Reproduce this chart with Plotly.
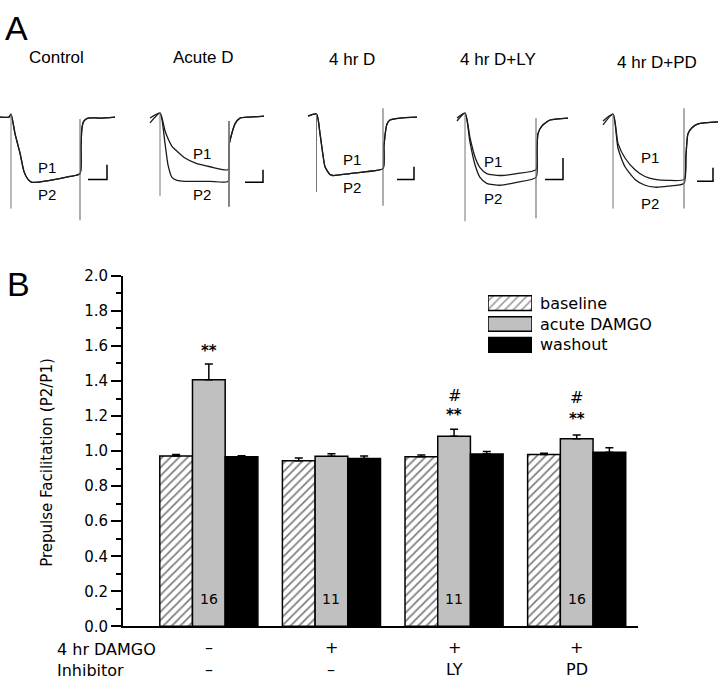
import plotly.graph_objects as go

# ---------------- panel B data ----------------
groups = [0, 1, 2, 3]
baseline = [0.972, 0.945, 0.967, 0.980]
baseline_err = [0.008, 0.015, 0.010, 0.008]
acute = [1.407, 0.970, 1.085, 1.070]
acute_err = [0.090, 0.015, 0.040, 0.022]
washout = [0.968, 0.957, 0.983, 0.994]
washout_err = [0.006, 0.015, 0.015, 0.025]
n_cells = ["16", "11", "11", "16"]
stars = ["**", "", "**", "**"]
star_y = [1.57, None, 1.207, 1.185]
hashes = ["", "", "#", "#"]
hash_y = [None, None, 1.318, 1.305]
damgo_row = ["\u2013", "+", "+", "+"]
inhib_row = ["\u2013", "\u2013", "LY", "PD"]
legend_names = ["baseline", "acute DAMGO", "washout"]

# ---------------- panel A data (sweep time, current) ----------------
titles = ["Control", "Acute D", "4 hr D", "4 hr D+LY", "4 hr D+PD"]

ctrl_t = [0, 9, 11, 15, 20, 24, 28, 32, 50, 70, 80, 81, 82, 84, 88, 100, 115]
ctrl_p1 = [-1, -1, 2, -18, -38, -57, -65, -68, -66, -62, -59, -30, -12, -5, -2, -2, -1]
ctrl_p2 = [-1, -1, 2, -18, -38, -57, -65, -68, -66, -62, -59, -30, -12, -5, -2, -2, -1]

acute_t = [10, 20, 25, 28, 32, 37, 45, 55, 70, 88, 89, 95, 100, 110, 124]
acute_p1 = [-2, 3, -15, -23, -31, -36, -43, -48, -52, -55, -30, -8, -2, -1, 0]
acute_p2 = [-7, 3, -28, -50, -63, -66, -67, -67, -67, -67, -30, -8, -2, -1, 0]

hr4_t = [8, 16.5, 20, 22.7, 25, 30, 33, 50, 66.7, 83, 84, 87, 90, 100, 117]
hr4_p1 = [0, 2, -18, -38, -52, -60, -61, -59, -57, -54, -30, -8, -4, -2, -1]
hr4_p2 = [0, 2, -18, -38, -52, -60, -61, -59, -57, -54, -30, -8, -4, -2, -1]

ly_t = [7, 15, 20, 25, 30, 36.7, 50, 66.7, 86, 87, 88, 92, 100, 118]
ly_p1 = [-2, 3, -22, -42, -53, -59, -61, -59, -55, -35, -18, -10, -4, -2]
ly_p2 = [-5, 3, -27, -50, -63, -69, -71, -68, -63, -35, -18, -10, -4, -2]

pd_t = [8, 18, 23, 30, 40, 50, 60, 73, 89, 91, 93, 97, 103, 123]
pd_p1 = [-5, 2, -28, -43, -55, -62, -65, -66, -65, -40, -18, -12, -8, -6]
pd_p2 = [-9, 2, -33, -52, -65, -71, -73, -72, -69, -40, -18, -12, -8, -6]

# stimulus artifacts: (time, top, bottom)
art_on = [(11, 2, -95), (20, 3, -82), (16.5, 2, -78), (15, 3, -108), (18, 2, -95)]
art_off = [(80, -3, -107), (89, -5, -93), (83, 8, -92), (86, -2, -105), (89, 8, -95)]
# scale bars: (x start, x end, bottom, top)
scalebars = [(88, 107, -65, -50), (105, 123, -68, -55), (97, 114, -65, -52),
             (95, 113, -65, -43), (102, 118, -67, -53)]
# label positions: (time, P1 level, P2 level)
p_labels = [(47, -53, -80), (62, -38, -80), (52, -45, -73), (43, -47, -85), (55, -43, -90)]

sweeps = [(ctrl_t, ctrl_p1, ctrl_p2), (acute_t, acute_p1, acute_p2), (hr4_t, hr4_p1, hr4_p2),
          (ly_t, ly_p1, ly_p2), (pd_t, pd_p1, pd_p2)]

W, H = 720, 686
panel_left = [0, 140, 300, 450, 595]
title_x = [56, 203, 352, 498, 657]
title_y = [50, 50, 52, 52, 55]


def txt(text, x, y, xref="paper", yref="paper", size=14, family="DejaVu Sans", **kw):
    d = dict(x=x, y=y, xref=xref, yref=yref, text=text, showarrow=False,
             xanchor="center", yanchor="middle", font=dict(family=family, size=size, color="black"))
    d.update(kw)
    return d


fig = go.Figure()

# ---- panel B bars ----
hatch = dict(shape="/", size=6, solidity=0.3, fgcolor="black", bgcolor="white")
fig.add_trace(go.Bar(x=groups, y=baseline, name=legend_names[0],
                     marker=dict(color="white", line=dict(color="black", width=1.5), pattern=hatch),
                     error_y=dict(type="data", symmetric=False, array=baseline_err, arrayminus=[0]*4,
                                  color="black", thickness=1.5, width=4)))
fig.add_trace(go.Bar(x=groups, y=acute, name=legend_names[1],
                     marker=dict(color="#c0c0c0", line=dict(color="black", width=1.5)),
                     error_y=dict(type="data", symmetric=False, array=acute_err, arrayminus=[0]*4,
                                  color="black", thickness=1.5, width=4)))
fig.add_trace(go.Bar(x=groups, y=washout, name=legend_names[2],
                     marker=dict(color="black", line=dict(color="black", width=1.5)),
                     error_y=dict(type="data", symmetric=False, array=washout_err, arrayminus=[0]*4,
                                  color="black", thickness=1.5, width=4)))

# ---- legend swatches on a small hidden axis ----
fig.add_trace(go.Bar(x=[1, 1, 1], y=[0, 1, 2], orientation="h", width=0.7, xaxis="x2", yaxis="y2",
                     cliponaxis=False, hoverinfo="skip",
                     marker=dict(color=["white", "#c0c0c0", "black"], line=dict(color="black", width=1.5),
                                 pattern=dict(shape=["/", "", ""], size=6, solidity=0.3,
                                              fgcolor="black", bgcolor="white"))))

ann = []
for i, name in enumerate(legend_names):
    ann.append(txt(name, 1, i, "x2", "y2", size=16, xanchor="left", xshift=6))

# ---- panel A traces ----
for k, (t, p1, p2) in enumerate(sweeps):
    xa, ya = "x%d" % (k + 3), "y%d" % (k + 3)
    for sw in (p1, p2):
        fig.add_trace(go.Scatter(x=t, y=sw, mode="lines", xaxis=xa, yaxis=ya,
                                 line=dict(color="#1a1a1a", width=1.3, shape="spline", smoothing=0.6),
                                 hoverinfo="skip"))
    for art, wd in ((art_on[k], 1.0), (art_off[k], 1.8 if k == 1 else 1.2)):
        fig.add_trace(go.Scatter(x=[art[0], art[0]], y=[art[1], art[2]], mode="lines", xaxis=xa, yaxis=ya,
                                 line=dict(color="#777777", width=wd), hoverinfo="skip"))
    sb = scalebars[k]
    fig.add_trace(go.Scatter(x=[sb[0], sb[1], sb[1]], y=[sb[2], sb[2], sb[3]], mode="lines",
                             xaxis=xa, yaxis=ya, line=dict(color="black", width=1.5), hoverinfo="skip"))
    lab = p_labels[k]
    ann.append(txt("P1", lab[0], lab[1], xa, ya, size=15, family="Liberation Sans"))
    ann.append(txt("P2", lab[0], lab[2], xa, ya, size=15, family="Liberation Sans"))
    ann.append(txt(titles[k], title_x[k] / W, 1 - title_y[k] / H, size=17, family="Liberation Sans"))

# ---- panel B annotations ----
for g in groups:
    ann.append(txt(n_cells[g], g, 0.155, "x", "y", size=14))
    if stars[g]:
        ann.append(txt("<b>%s</b>" % stars[g], g, star_y[g], "x", "y", size=15))
    if hashes[g]:
        ann.append(txt(hashes[g], g, hash_y[g], "x", "y", size=16))
    ann.append(txt(damgo_row[g], g, 1 - 656 / H, "x", "paper", size=16))
    ann.append(txt(inhib_row[g], g, 1 - 678 / H, "x", "paper", size=16))

ann.append(txt("4 hr DAMGO", 55 / W, 1 - 658 / H, size=16, xanchor="left"))
ann.append(txt("Inhibitor", 55 / W, 1 - 679 / H, size=16, xanchor="left"))
ann.append(txt("Prepulse Facilitation (P2/P1)", 47 / W, 1 - 466 / H, size=15, textangle=-90))
ann.append(txt("A", 16 / W, 1 - 19 / H, size=34, family="Liberation Sans"))
ann.append(txt("B", 18 / W, 1 - 282 / H, size=34, family="Liberation Sans"))

layout = dict(
    width=W, height=H, margin=dict(l=0, r=0, t=0, b=0),
    paper_bgcolor="white", plot_bgcolor="white", showlegend=False,
    barmode="group", bargap=0.2, bargroupgap=0,
    xaxis=dict(domain=[123 / W, 638 / W], range=[-0.70, 3.5], showline=True, linecolor="black",
               linewidth=2, showticklabels=False, ticks="", showgrid=False, zeroline=False),
    yaxis=dict(domain=[1 - 634 / H, 1 - 274 / H], range=[0, 2.0], showline=True, linecolor="black",
               linewidth=2, ticks="outside", ticklen=10, tickwidth=1.5, tickcolor="black",
               dtick=0.2, tickformat=".1f", showgrid=False, zeroline=False,
               tickfont=dict(family="DejaVu Sans", size=15, color="black"),
               minor=dict(dtick=0.1, ticks="outside", ticklen=5, tickwidth=1.5, tickcolor="black",
                          showgrid=False)),
    xaxis2=dict(domain=[488 / W, 532 / W], range=[0, 1], visible=False, anchor="y2"),
    yaxis2=dict(domain=[1 - 355.75 / H, 1 - 291.25 / H], range=[2.5, -0.5], visible=False, anchor="x2"),
    annotations=ann,
)
for k in range(5):
    xl = panel_left[k]
    layout["xaxis%d" % (k + 3)] = dict(domain=[xl / W, min(xl + 125, W) / W], range=[0, 125],
                                       visible=False, anchor="y%d" % (k + 3))
    layout["yaxis%d" % (k + 3)] = dict(domain=[1 - 222 / H, 1 - 100 / H], range=[-112, 10],
                                       visible=False, anchor="x%d" % (k + 3))

fig.update_layout(**layout)
# the page's default body margin would push the 720x686 figure off by 8 px
fig.write_html("out.html", config={"displayModeBar": False},
               post_script="document.body.style.margin='0';")
